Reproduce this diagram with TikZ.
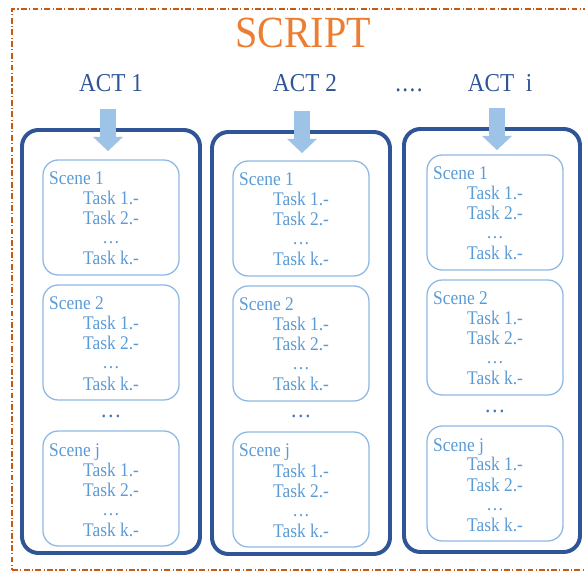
\documentclass[tikz,border=0pt]{standalone}
\usepackage{fontspec}
\setmainfont{Liberation Serif}[FakeStretch=0.9]
\usetikzlibrary{arrows.meta,fit}
\definecolor{scriptorange}{HTML}{ED7D31}
\definecolor{framebrown}{HTML}{C55A11}
\definecolor{actblue}{HTML}{2F5597}
\definecolor{arrowblue}{HTML}{9DC3E6}
\definecolor{scenedraw}{HTML}{8DB8E4}
\definecolor{scenetext}{HTML}{5B9BD5}
\definecolor{dotblue}{HTML}{4472C4}
\tikzset{
	scriptframe/.style={draw=framebrown,line width=1.1pt,dash pattern=on 5pt off 2pt on 1pt off 2pt,inner sep=0pt},
	actbox/.style={draw=actblue,line width=3.4pt,rounded corners=14pt,inner sep=0pt},
	scenebox/.style={draw=scenedraw,line width=1.1pt,rounded corners=13pt,inner sep=0pt},
	bigarrow/.style={draw=arrowblue,line width=13.5pt,-{Triangle[length=12pt,width=25.5pt,line width=0pt]}},
	actlabel/.style={text=actblue,font=\fontsize{22}{26}\selectfont,anchor=base,inner sep=0pt},
	scenelabel/.style={text=scenetext,font=\fontsize{16.5}{20}\selectfont,anchor=base west,inner sep=0pt},
	tasklabel/.style={text=scenetext,font=\fontsize{16.5}{20}\selectfont,anchor=base,inner sep=0pt},
	morescenes/.style={text=dotblue,font=\fontsize{20}{24}\selectfont,anchor=base,inner sep=0pt}
}
\begin{document}
\begin{tikzpicture}[x=0.03cm,y=-0.03cm]
\useasboundingbox (0,0) rectangle (585,572);
\clip (0,0) rectangle (585,572);
%%% Script frame and title
\node[scriptframe,fit={(12,9) (600,570)}] (script) {};
\node[text=scriptorange,font=\fontsize{38}{44}\selectfont,anchor=base,inner sep=0pt] (title) at (303,48) {SCRIPT};
%%% Acts
\foreach \c/\lx/\ax/\l/\t/\r/\b/\lab in {1/111/108/22/130/200/553/1,2/305/302/212/132/390/554/2,3/500/497/404/129/580/552/{\ i}}
{
	\node[actlabel] (act\c) at (\lx,92) {ACT \lab};
	\node[actbox,fit={(\l,\t) (\r,\b)}] (box\c) {};
	\coordinate (a\c) at (\ax,\t-21);
	\coordinate (tip\c) at (\ax,\t+21);
	\draw[bigarrow] (a\c) -- (tip\c);
}
\node[actlabel] (moreacts) at (409,92) {.\kern1.2pt.\kern1.2pt.\kern1.2pt.};
%%% Scenes in each act
\foreach \c/\x/\y in {1/43/160,2/233/161,3/427/155}
{
	\foreach \r/\dy/\n in {1/0/1,2/125/2,3/271/j}
	{
		\node[scenebox,fit={(\x,\y+\dy) (\x+136,\y+\dy+115)}] (s\c\r) {};
		\node[scenelabel] (sl\c\r) at (\x+6,\y+\dy+25) {Scene \n};
		\foreach \k/\ty/\task in {1/45/Task 1.-,2/65/Task 2.-,3/84/…,4/105/Task k.-}
		{
			\node[tasklabel] (t\c\r\k) at (\x+68,\y+\dy+\ty) {\task};
		}
	}
	\node[morescenes] (more\c) at (\x+68,\y+257) {…};
}
\end{tikzpicture}
\end{document}
